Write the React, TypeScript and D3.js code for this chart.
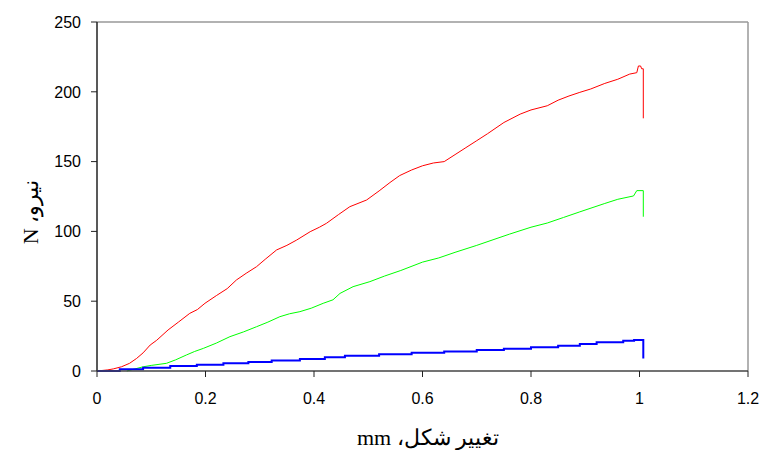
import React from "react";
import * as d3 from "d3";

// deformation (mm) vs force (N)
const redCurve: [number, number][] = [
  [0, 0], [0.02, 0.8], [0.03, 1.5], [0.045, 3], [0.06, 5.5], [0.073, 9], [0.085, 13], [0.098, 18.6],
  [0.11, 22], [0.131, 29.4], [0.15, 35], [0.171, 41.3], [0.185, 44], [0.199, 48.5],
  [0.22, 54], [0.24, 59], [0.257, 65.2], [0.275, 70], [0.294, 74.7], [0.31, 80],
  [0.331, 86.7], [0.35, 90], [0.368, 93.8], [0.393, 99.8], [0.41, 103], [0.423, 105.8],
  [0.445, 112], [0.466, 117.7], [0.497, 122.5], [0.52, 129], [0.54, 135], [0.558, 140],
  [0.58, 144], [0.6, 147], [0.62, 149], [0.64, 150], [0.66, 155], [0.68, 160], [0.7, 165],
  [0.72, 170], [0.75, 178], [0.78, 184], [0.8, 187], [0.83, 190], [0.85, 194], [0.87, 197],
  [0.89, 199.6], [0.91, 202], [0.936, 206], [0.96, 209], [0.982, 212.7], [0.995, 213.7],
  [0.998, 218.5], [1.002, 218.5], [1.004, 216.5], [1.007, 216.5], [1.007, 181],
];

const greenCurve: [number, number][] = [
  [0.055, 0], [0.07, 1.5], [0.085, 3], [0.1, 4], [0.128, 5.5], [0.145, 8], [0.165, 11.5],
  [0.18, 14], [0.196, 16.2], [0.22, 20], [0.245, 24.6], [0.27, 28], [0.294, 31.7],
  [0.315, 35], [0.337, 38.9], [0.355, 41], [0.374, 42.5], [0.395, 45], [0.417, 48.5],
  [0.435, 51], [0.448, 55.6], [0.472, 60.4], [0.503, 64], [0.53, 68], [0.56, 72],
  [0.6, 78], [0.63, 81], [0.66, 85], [0.7, 90], [0.73, 94], [0.76, 98], [0.8, 103],
  [0.83, 106], [0.86, 110], [0.89, 114], [0.936, 120], [0.96, 123], [0.989, 125.4],
  [0.995, 129.2], [1.007, 129.2], [1.007, 110.5],
];

const blueCurve: [number, number][] = [
  [0, 0], [0.042, 1.2], [0.085, 2.4], [0.135, 3.6], [0.184, 4.5], [0.233, 5.5],
  [0.279, 6.4], [0.322, 7.6], [0.374, 8.6], [0.42, 9.8], [0.457, 11], [0.52, 12],
  [0.58, 13], [0.64, 14], [0.7, 15], [0.75, 16], [0.8, 17], [0.85, 18], [0.89, 19.3],
  [0.921, 20.6], [0.97, 21.7], [0.99, 22.2], [1.007, 22.2], [1.007, 9],
];

const xTicks = [0, 0.2, 0.4, 0.6, 0.8, 1, 1.2];
const yTicks = [0, 50, 100, 150, 200, 250];

const width = 760;
const height = 450;
const left = 97, right = 748, top = 22, bottom = 371;

export default function App() {
  const x = d3.scaleLinear().domain([0, 1.2]).range([left, right]);
  const y = d3.scaleLinear().domain([0, 250]).range([bottom, top]);

  const smooth = d3.line<[number, number]>().x((d) => x(d[0])).y((d) => y(d[1]));
  const stepLine = d3.line<[number, number]>().x((d) => x(d[0])).y((d) => y(d[1])).curve(d3.curveStepAfter);

  return (
    <>
      <style>{`body{margin:0}`}</style>
      <svg width={width} height={height} style={{ display: "block", background: "#fff" }}>
        {/* frame */}
        <line x1={left} x2={right} y1={top} y2={top} stroke="#999" strokeWidth={1.5} />
        <line x1={right} x2={right} y1={top} y2={bottom} stroke="#999" strokeWidth={1.5} />

        {/* curves */}
        <path d={smooth(greenCurve) || ""} fill="none" stroke="#00ff00" strokeWidth={1} />
        <path d={smooth(redCurve) || ""} fill="none" stroke="#ff0000" strokeWidth={1} />
        <path d={stepLine(blueCurve) || ""} fill="none" stroke="#0000ff" strokeWidth={2} />

        {/* axes */}
        <line x1={left} x2={left} y1={top} y2={bottom} stroke="#222" strokeWidth={1.5} />
        <line x1={left} x2={right} y1={bottom} y2={bottom} stroke="#444" strokeWidth={1.5} />
        {yTicks.map((t) => (
          <g key={"y" + t}>
            <line x1={left - 6} x2={left} y1={y(t)} y2={y(t)} stroke="#222" strokeWidth={1} />
            <text x={left - 16} y={y(t)} dy="0.36em" textAnchor="end"
              fontFamily="Liberation Sans, Arial, sans-serif" fontSize={16}>{t}</text>
          </g>
        ))}
        {xTicks.map((t) => (
          <g key={"x" + t}>
            <line x1={x(t)} x2={x(t)} y1={bottom} y2={bottom + 6} stroke="#222" strokeWidth={1} />
            <text x={x(t)} y={bottom + 27} dy="0.36em" textAnchor="middle"
              fontFamily="Liberation Sans, Arial, sans-serif" fontSize={16}>{t}</text>
          </g>
        ))}

        {/* titles */}
        <text x={428} y={445} textAnchor="middle" direction="rtl"
          fontFamily="Liberation Serif, Times New Roman, serif" fontSize={22}>
          تغيير شكل، mm
        </text>
        <text transform={`translate(38, 212) rotate(-90)`} textAnchor="middle" direction="rtl"
          fontFamily="Liberation Serif, Times New Roman, serif" fontSize={22}>
          نيرو، N
        </text>
      </svg>
    </>
  );
}
